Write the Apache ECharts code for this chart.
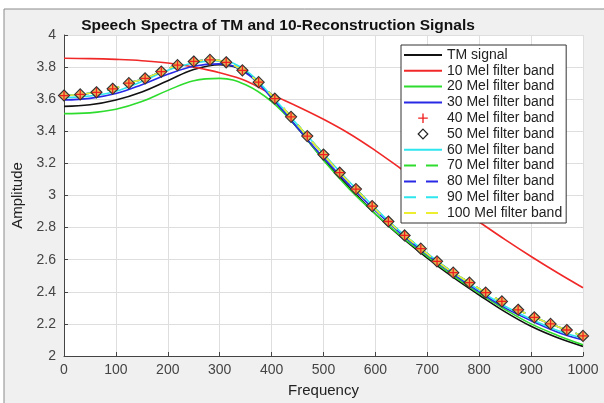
<!DOCTYPE html>
<html>
<head>
    <meta charset="utf-8">
    <script src="https://cdn.jsdelivr.net/npm/echarts@6/dist/echarts.min.js"></script>
    <title>Speech Spectra</title>
    <style>
        html, body { margin: 0; padding: 0; background: #fff; }
        #main { width: 604px; height: 403px; }
    </style>
</head>
<body>
    <div id="main"></div>
    <script type="text/javascript">
    // frequency grid of the smooth curves (Hz)
    var freqLine = [0, 50, 100, 150, 200, 250, 300, 350, 400, 450, 500,
                    550, 600, 650, 700, 750, 800, 850, 900, 950, 1000];
    // frequency grid of the marker series (33 points)
    var freqMark = [0, 31.25, 62.5, 93.75, 125, 156.25, 187.5, 218.75, 250, 281.25, 312.5,
                    343.75, 375, 406.25, 437.5, 468.75, 500, 531.25, 562.5, 593.75, 625,
                    656.25, 687.5, 718.75, 750, 781.25, 812.5, 843.75, 875, 906.25, 937.5,
                    968.75, 1000];

    var tmSignal = [3.555, 3.565, 3.595, 3.645, 3.715, 3.785, 3.815, 3.77, 3.61, 3.42, 3.225,
                    3.05, 2.885, 2.74, 2.61, 2.49, 2.38, 2.275, 2.185, 2.115, 2.06];
    var mel10 = [3.855, 3.853, 3.848, 3.84, 3.826, 3.80, 3.765, 3.715, 3.63, 3.555, 3.475,
                 3.385, 3.28, 3.165, 3.05, 2.945, 2.835, 2.725, 2.62, 2.52, 2.425];
    var mel20 = [3.51, 3.515, 3.537, 3.585, 3.655, 3.715, 3.73, 3.69, 3.585, 3.42, 3.22,
                 3.04, 2.885, 2.745, 2.62, 2.50, 2.39, 2.29, 2.20, 2.13, 2.07];
    var mel30 = [3.595, 3.605, 3.635, 3.69, 3.755, 3.805, 3.82, 3.765, 3.61, 3.42, 3.235,
                 3.065, 2.905, 2.76, 2.63, 2.51, 2.40, 2.30, 2.22, 2.15, 2.10];
    var mel60 = [3.61, 3.62, 3.65, 3.71, 3.78, 3.825, 3.84, 3.78, 3.62, 3.44, 3.26,
                 3.085, 2.92, 2.77, 2.64, 2.52, 2.41, 2.31, 2.23, 2.16, 2.11];
    // 40..100 band reconstructions sit on top of each other
    var melHigh = [3.623, 3.63, 3.643, 3.665, 3.70, 3.73, 3.772, 3.812, 3.835, 3.845, 3.83,
                   3.78, 3.706, 3.603, 3.49, 3.37, 3.255, 3.142, 3.04, 2.934, 2.838,
                   2.751, 2.669, 2.59, 2.519, 2.457, 2.395, 2.34, 2.288, 2.241, 2.20,
                   2.162, 2.125];

    var names = ['TM signal', '10 Mel filter band', '20 Mel filter band', '30 Mel filter band',
                 '40 Mel filter band', '50 Mel filter band', '60 Mel filter band', '70 Mel filter band',
                 '80 Mel filter band', '90 Mel filter band', '100 Mel filter band'];

    var plusPath = 'path://M4.3,0h1.4v10h-1.4z M0,4.3h10v1.4h-10z';

    function pairs(xs, ys) {
        return xs.map(function (x, i) { return [x, ys[i]]; });
    }

    function lineSeries(name, xs, ys, color, dashed) {
        return {
            name: name,
            type: 'line',
            data: pairs(xs, ys),
            smooth: 0.4,
            symbol: 'none',
            lineStyle: { color: color, width: 1.6, type: dashed ? [12, 10] : 'solid' },
            itemStyle: { color: color },
            emphasis: { disabled: true }
        };
    }

    var myChart = echarts.init(document.getElementById('main'), null, { renderer: 'canvas' });

    var font = '"Liberation Sans", Arial, sans-serif';

    var option = {
        backgroundColor: '#ffffff',
        animation: false,
        textStyle: { fontFamily: font },
        graphic: [{
            type: 'rect',
            z: -10,
            shape: { x: 4, y: 9, width: 620, height: 420 },
            style: { fill: '#f0f0f0', stroke: '#8a8a8a', lineWidth: 1 }
        }],
        title: {
            text: 'Speech Spectra of TM and 10-Reconstruction Signals',
            left: 273,
            top: 13,
            textAlign: 'center',
            textStyle: { fontSize: 15.5, fontWeight: 'bold', color: '#111', fontFamily: font }
        },
        grid: {
            left: 64, top: 35, right: 21, bottom: 44, containLabel: false,
            show: true, backgroundColor: '#ffffff', borderWidth: 0
        },
        legend: {
            orient: 'vertical',
            left: 401,
            top: 45,
            padding: [3, 4, 3, 2],
            itemWidth: 38,
            itemHeight: 12,
            itemGap: 1.8,
            backgroundColor: '#ffffff',
            borderColor: '#333',
            borderWidth: 1,
            borderRadius: 0,
            textStyle: { fontSize: 14, lineHeight: 14, color: '#222', fontFamily: font },
            data: names.map(function (n, i) {
                if (i === 4) {
                    return { name: n, icon: 'inherit' };
                }
                if (i === 5) {
                    return { name: n, icon: 'inherit', itemStyle: { color: 'transparent', borderColor: '#222', borderWidth: 1.2 } };
                }
                // plain line sample, no symbol in the middle
                return { name: n, icon: 'inherit', itemStyle: { opacity: 0 } };
            })
        },
        xAxis: {
            type: 'value',
            min: 0,
            max: 1000,
            interval: 100,
            name: 'Frequency',
            nameLocation: 'middle',
            nameGap: 27,
            nameTextStyle: { fontSize: 15, color: '#222', fontFamily: font },
            axisLine: { onZero: false, lineStyle: { color: '#444', width: 1 } },
            axisTick: { inside: true, length: 4, lineStyle: { color: '#444' } },
            axisLabel: {
                fontSize: 14, color: '#444', margin: 7, fontFamily: font,
                formatter: function (v) { return String(v); }
            },
            splitLine: { show: true, lineStyle: { color: '#dedede', width: 1 } }
        },
        yAxis: {
            type: 'value',
            min: 2,
            max: 4,
            interval: 0.2,
            name: 'Amplitude',
            nameLocation: 'middle',
            nameGap: 35,
            nameTextStyle: { fontSize: 15, color: '#222', fontFamily: font },
            axisLine: { show: true, onZero: false, lineStyle: { color: '#444', width: 1 } },
            axisTick: { show: true, inside: true, length: 4, lineStyle: { color: '#444' } },
            axisLabel: {
                fontSize: 14, color: '#444', margin: 8, fontFamily: font,
                formatter: function (v) { return String(+v.toFixed(1)); }
            },
            splitLine: { show: true, lineStyle: { color: '#dedede', width: 1 } }
        },
        series: [
            lineSeries(names[0], freqLine, tmSignal, '#111111', false),
            lineSeries(names[1], freqLine, mel10, '#f02828', false),
            lineSeries(names[2], freqLine, mel20, '#2ddc2d', false),
            lineSeries(names[3], freqLine, mel30, '#2828e6', false),
            {
                name: names[4],
                type: 'line',
                data: pairs(freqMark, melHigh),
                symbol: plusPath,
                symbolSize: 9,
                showSymbol: true,
                lineStyle: { width: 0 },
                itemStyle: { color: '#f02020' },
                z: 4,
                emphasis: { disabled: true }
            },
            {
                name: names[5],
                type: 'line',
                data: pairs(freqMark, melHigh),
                symbol: 'diamond',
                symbolSize: 11,
                showSymbol: true,
                lineStyle: { width: 0 },
                itemStyle: { color: 'rgba(236,176,70,0.9)', borderColor: '#333', borderWidth: 1.2 },
                z: 3,
                emphasis: { disabled: true }
            },
            lineSeries(names[6], freqLine, mel60, '#2ee6ee', false),
            lineSeries(names[7], freqMark, melHigh, '#2ddc2d', true),
            lineSeries(names[8], freqMark, melHigh, '#2828e6', true),
            lineSeries(names[9], freqMark, melHigh, '#2ee6ee', true),
            lineSeries(names[10], freqMark, melHigh, '#eeee30', true)
        ]
    };

    myChart.setOption(option);
    </script>
</body>
</html>
